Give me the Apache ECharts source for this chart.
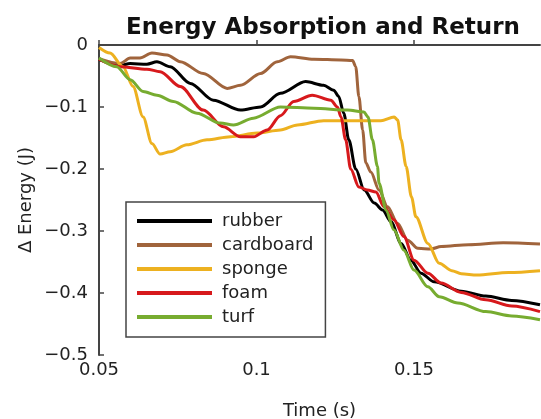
<!DOCTYPE html>
<html>
<head>
<meta charset="utf-8">
<script src="https://cdn.jsdelivr.net/npm/echarts@6/dist/echarts.min.js"></script>
<style>
  html, body { margin: 0; padding: 0; background: #fff; }
  #chart { width: 541px; height: 419px; }
</style>
</head>
<body>
<div id="chart"></div>
<script>
// values: [time (s), delta energy (J)]
const rubber = [
  [0.05, -0.023], [0.0567, -0.033], [0.0599, -0.030], [0.0652, -0.031], [0.0684, -0.027],
  [0.0726, -0.035], [0.079, -0.062], [0.0863, -0.089], [0.0949, -0.105], [0.1013, -0.100],
  [0.1076, -0.078], [0.1156, -0.059], [0.1213, -0.065], [0.1245, -0.073], [0.1261, -0.083],
  [0.1277, -0.110], [0.1293, -0.153], [0.1315, -0.200], [0.1342, -0.234], [0.1374, -0.255],
  [0.1400, -0.266], [0.1427, -0.285], [0.1459, -0.320], [0.149, -0.347], [0.1522, -0.368],
  [0.1564, -0.382], [0.1650, -0.397], [0.1728, -0.405], [0.1810, -0.412], [0.19, -0.419]
];
const cardboard = [
  [0.05, -0.022], [0.0567, -0.030], [0.0599, -0.021], [0.063, -0.021], [0.0668, -0.013],
  [0.0716, -0.016], [0.0758, -0.027], [0.0831, -0.046], [0.0907, -0.070], [0.0949, -0.065],
  [0.1013, -0.046], [0.1066, -0.027], [0.1108, -0.019], [0.1182, -0.023], [0.1268, -0.024],
  [0.1305, -0.025], [0.1315, -0.035], [0.1325, -0.083], [0.1337, -0.137], [0.1347, -0.190],
  [0.1363, -0.205], [0.1389, -0.234], [0.1416, -0.261], [0.1448, -0.288], [0.148, -0.315],
  [0.1512, -0.328], [0.1554, -0.329], [0.1586, -0.325], [0.1673, -0.322], [0.1783, -0.319],
  [0.19, -0.321]
];
const sponge = [
  [0.05, -0.004], [0.0535, -0.013], [0.0576, -0.035], [0.0608, -0.067], [0.064, -0.116],
  [0.0668, -0.159], [0.0694, -0.176], [0.0726, -0.172], [0.0779, -0.161], [0.0843, -0.153],
  [0.0917, -0.148], [0.1002, -0.142], [0.1076, -0.137], [0.113, -0.129], [0.1213, -0.122],
  [0.1341, -0.122], [0.1395, -0.122], [0.1437, -0.116], [0.1448, -0.121], [0.1459, -0.153],
  [0.1475, -0.196], [0.1492, -0.245], [0.1506, -0.277], [0.1544, -0.320], [0.158, -0.352],
  [0.1620, -0.364], [0.165, -0.369], [0.170, -0.371], [0.180, -0.367], [0.19, -0.364]
];
const foam = [
  [0.05, -0.023], [0.0567, -0.035], [0.0652, -0.039], [0.0694, -0.043], [0.0758, -0.067],
  [0.0831, -0.105], [0.0895, -0.132], [0.0949, -0.148], [0.0991, -0.148], [0.1034, -0.137],
  [0.1076, -0.114], [0.1118, -0.091], [0.1177, -0.081], [0.1236, -0.089], [0.1257, -0.100],
  [0.1268, -0.116], [0.1283, -0.153], [0.1299, -0.200], [0.1325, -0.229], [0.1352, -0.234],
  [0.1379, -0.237], [0.1405, -0.261], [0.1436, -0.282], [0.1468, -0.309], [0.150, -0.347],
  [0.1544, -0.368], [0.1586, -0.384], [0.1650, -0.399], [0.1728, -0.411], [0.181, -0.421],
  [0.19, -0.430]
];
const turf = [
  [0.05, -0.021], [0.0556, -0.035], [0.0599, -0.056], [0.064, -0.075], [0.0684, -0.081],
  [0.0736, -0.091], [0.0811, -0.110], [0.0885, -0.126], [0.0927, -0.129], [0.099, -0.118],
  [0.1076, -0.100], [0.1182, -0.102], [0.1289, -0.105], [0.1341, -0.108], [0.1354, -0.116],
  [0.1368, -0.153], [0.1384, -0.196], [0.1389, -0.223], [0.1411, -0.266], [0.1436, -0.298],
  [0.1468, -0.331], [0.150, -0.363], [0.1544, -0.390], [0.158, -0.406], [0.1639, -0.416],
  [0.1728, -0.430], [0.181, -0.437], [0.19, -0.443]
];

const names = ['rubber', 'cardboard', 'sponge', 'foam', 'turf'];
const colors = ['#000000', '#A0643C', '#EDB120', '#D7191C', '#77AC30'];
const seriesData = [rubber, cardboard, sponge, foam, turf];

const font = 'DejaVu Sans';
const minus = v => (v === 0 ? '0' : '\u2212' + Math.abs(v).toFixed(1));

let chart = echarts.init(document.getElementById('chart'), null, { renderer: 'canvas' });

let option = {
  animation: false,
  title: {
    text: 'Energy Absorption and Return',
    left: 318,
    top: 12,
    textAlign: 'center',
    textStyle: { fontFamily: font, fontSize: 23, fontWeight: 'bold', color: '#111' }
  },
  legend: {
    orient: 'vertical',
    left: 126,
    top: 202,
    padding: [9, 12, 10, 11],
    itemGap: 4,
    itemWidth: 75,
    itemHeight: 4,
    icon: 'rect',
    borderColor: '#444',
    borderWidth: 1.5,
    borderRadius: 0,
    data: names,
    textStyle: { fontFamily: font, fontSize: 18, color: '#222', lineHeight: 20, padding: [0, 0, 0, 5] }
  },
  grid: { left: 99, right: 1, top: 45, bottom: 64, outerBoundsMode: 'none' },
  xAxis: {
    type: 'value',
    min: 0.05,
    max: 0.19,
    interval: 0.05,
    name: 'Time (s)',
    nameLocation: 'middle',
    nameGap: 47,
    nameMoveOverlap: false,
    nameTextStyle: { fontFamily: font, fontSize: 18, color: '#222' },
    axisLine: { lineStyle: { color: '#444', width: 2 } },
    axisTick: { inside: true, length: 5, lineStyle: { color: '#444', width: 1.5 } },
    axisLabel: {
      margin: 6, fontFamily: font, fontSize: 18, color: '#222', showMaxLabel: false,
      formatter: v => String(+v.toFixed(2))
    },
    splitLine: { show: false }
  },
  yAxis: {
    type: 'value',
    min: -0.5,
    max: 0,
    interval: 0.1,
    name: '\u0394 Energy (J)',
    nameLocation: 'middle',
    nameGap: 64,
    nameMoveOverlap: false,
    nameTextStyle: { fontFamily: font, fontSize: 18, color: '#222' },
    axisLine: { lineStyle: { color: '#444', width: 2 } },
    axisTick: { inside: true, length: 5, lineStyle: { color: '#444', width: 1.5 } },
    axisLabel: { margin: 11, fontFamily: font, fontSize: 18, color: '#222', formatter: minus },
    splitLine: { show: false }
  },
  series: names.map((n, i) => ({
    name: n,
    type: 'line',
    data: seriesData[i],
    showSymbol: false,
    smooth: 0.3,
    smoothMonotone: 'x',
    clip: true,
    color: colors[i],
    lineStyle: { width: 3, color: colors[i] }
  }))
};

chart.setOption(option);
</script>
</body>
</html>
